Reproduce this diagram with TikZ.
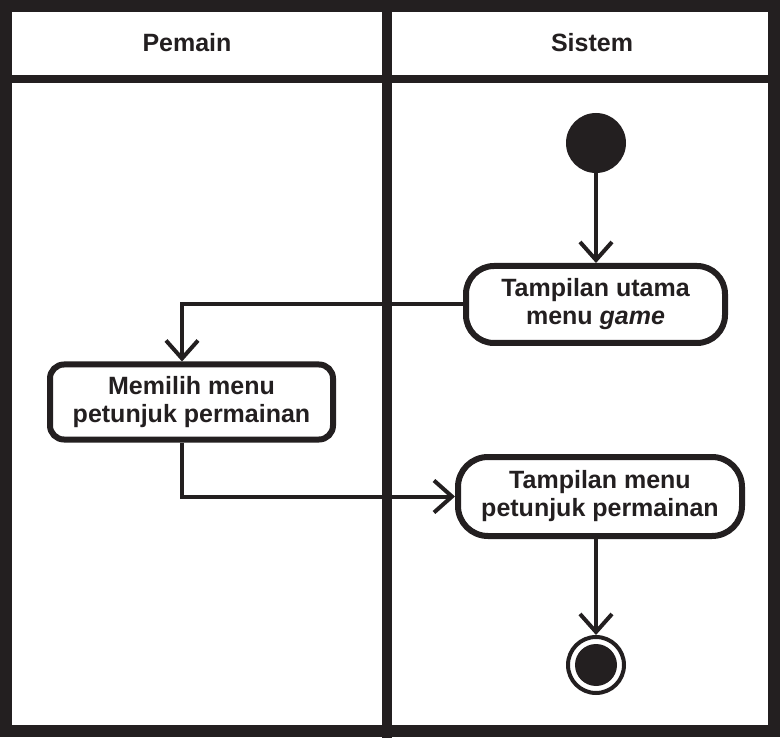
\documentclass[tikz,border=0pt]{standalone}
\usepackage{fontspec}
\setmainfont{Liberation Sans}
\usetikzlibrary{arrows.meta}
\definecolor{ink}{HTML}{231F20}
\begin{document}
\begin{tikzpicture}[x=1pt,y=-1pt,
  lbl/.style={font=\fontsize{25}{28}\selectfont\bfseries, text=ink, inner sep=0pt},
  act/.style={draw=ink, line width=6pt, fill=white, align=center,
    font=\fontsize{25}{28}\selectfont\bfseries, text=ink, inner sep=0pt},
  flow/.style={draw=ink, line width=4pt, -{Straight Barb[length=18pt,width=32pt]}}
]
\useasboundingbox (0,0) rectangle (780,738);
\fill[white] (0,0) rectangle (780,738);
% swimlane frame
\draw[ink, line width=12pt] (6,6) rectangle (774,731);
\draw[ink, line width=8pt] (0,79) -- (780,79);
\draw[ink, line width=10pt] (387,0) -- (387,738);
\node[lbl] (pemain) at (187,43) {Pemain};
\node[lbl] (sistem) at (592,43) {Sistem};

% nodes
\node[circle, fill=ink, minimum size=60pt, inner sep=0pt] (start) at (596,143) {};
\node[act, rounded corners=28pt, minimum width=259pt, minimum height=77pt] (a1) at (595.5,304.5) {Tampilan utama\\menu \textit{game}};
\node[act, rounded corners=14pt, minimum width=283pt, minimum height=75pt] (m1) at (191.5,402) {Memilih menu\\petunjuk permainan};
\node[act, rounded corners=30pt, minimum width=284pt, minimum height=79pt] (a3) at (600,496.5) {Tampilan menu\\petunjuk permainan};
\node[circle, draw=ink, line width=4pt, fill=white, minimum size=56pt, inner sep=0pt] (end) at (596,665) {};
\node[circle, fill=ink, minimum size=42pt, inner sep=0pt] (endin) at (end.center) {};

% connectors
\draw[flow] (start.south) -- (start.south |- a1.north);
\draw[flow] (a1.west) -| ([xshift=-9.5pt]m1.north);
\draw[flow] ([xshift=-9.5pt]m1.south) |- (a3.west);
\draw[flow] (a3.south -| end.north) -- (end.north);
\end{tikzpicture}
\end{document}
